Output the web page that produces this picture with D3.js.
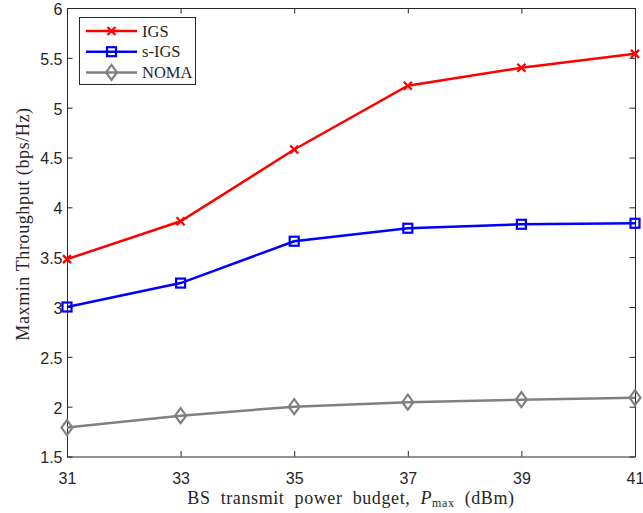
<!DOCTYPE html>
<html>
<head>
<meta charset="utf-8">
<script src="https://cdn.jsdelivr.net/npm/d3@7"></script>
<style>
  html, body { margin: 0; padding: 0; background: #fff; }
  svg { display: block; }
</style>
</head>
<body>
<svg id="chart" width="643" height="513"></svg>
<script>
// Transmit power budget (dBm)
const powerBudget = [31, 33, 35, 37, 39, 41];
// Max-min throughput (bps/Hz) per scheme
const igs  = [3.48, 3.86, 4.58, 5.22, 5.40, 5.54];
const sIgs = [3.00, 3.24, 3.66, 3.79, 3.83, 3.84];
const noma = [1.79, 1.91, 2.00, 2.045, 2.07, 2.09];
const seriesNames = ["IGS", "s-IGS", "NOMA"];
const xTicks = [31, 33, 35, 37, 39, 41];
const yTicks = [1.5, 2, 2.5, 3, 3.5, 4, 4.5, 5, 5.5, 6];

const series = [
  { name: seriesNames[0], values: igs,  color: "#ff0000", marker: "x" },
  { name: seriesNames[1], values: sIgs, color: "#0000ff", marker: "square" },
  { name: seriesNames[2], values: noma, color: "#808080", marker: "diamond" }
];

const svg = d3.select("#chart");
const m = { left: 67, right: 635, top: 8, bottom: 456.5 };
const x = d3.scaleLinear().domain([31, 41]).range([m.left, m.right]);
const y = d3.scaleLinear().domain([1.5, 6]).range([m.bottom, m.top]);
const axisColor = "#262626";
const tickFont = "'Liberation Sans', Arial, sans-serif";
const serif = "'Liberation Serif', 'Times New Roman', serif";

// Axes with inward ticks on all four sides
const tickLen = 5.5;
const axisBottomG = svg.append("g").attr("transform", `translate(0,${m.bottom})`)
  .call(d3.axisBottom(x).tickValues(xTicks).tickSizeInner(-tickLen).tickSizeOuter(0).tickPadding(16).tickFormat(d3.format("d")));
const axisTopG = svg.append("g").attr("transform", `translate(0,${m.top})`)
  .call(d3.axisTop(x).tickValues(xTicks).tickSizeInner(-tickLen).tickSizeOuter(0).tickFormat(""));
const axisLeftG = svg.append("g").attr("transform", `translate(${m.left},0)`)
  .call(d3.axisLeft(y).tickValues(yTicks).tickSizeInner(-tickLen).tickSizeOuter(0).tickPadding(4.5).tickFormat(d => String(d)));
const axisRightG = svg.append("g").attr("transform", `translate(${m.right},0)`)
  .call(d3.axisRight(y).tickValues(yTicks).tickSizeInner(-tickLen).tickSizeOuter(0).tickFormat(""));

[axisBottomG, axisTopG, axisLeftG, axisRightG].forEach(g => {
  g.select(".domain").attr("stroke", axisColor).attr("stroke-width", 1);
  g.selectAll(".tick line").attr("stroke", axisColor).attr("stroke-width", 1);
  g.selectAll(".tick text").attr("fill", axisColor).style("font-family", tickFont).style("font-size", "16px");
});
axisLeftG.selectAll(".tick text").attr("dy", "0.4em");

// Axis titles
svg.append("text")
  .attr("transform", `translate(29,224) rotate(-90)`)
  .attr("text-anchor", "middle")
  .style("font-family", serif).style("font-size", "18px").style("letter-spacing", "0.6px")
  .attr("fill", axisColor)
  .text("Maxmin Throughput (bps/Hz)");

const xt = svg.append("text")
  .attr("x", 351).attr("y", 504)
  .attr("text-anchor", "middle")
  .style("font-family", serif).style("font-size", "18px")
  .style("letter-spacing", "0.6px").style("word-spacing", "5px").attr("fill", axisColor);
xt.append("tspan").text("BS transmit power budget, ");
xt.append("tspan").style("font-style", "italic").text("P");
xt.append("tspan").attr("dy", 3).style("font-size", "12px").text("max");
xt.append("tspan").attr("dy", -3).text(" (dBm)");

// Marker drawing
function drawMarker(g, type, color, cx, cy) {
  if (type === "x") {
    const s = 4;
    g.append("path")
      .attr("d", `M${cx - s},${cy - s}L${cx + s},${cy + s}M${cx - s},${cy + s}L${cx + s},${cy - s}`)
      .attr("stroke", color).attr("stroke-width", 2.3).attr("fill", "none");
  } else if (type === "square") {
    const s = 4.5;
    g.append("rect").attr("x", cx - s).attr("y", cy - s).attr("width", 2 * s).attr("height", 2 * s)
      .attr("stroke", color).attr("stroke-width", 2.2).attr("fill", "none");
  } else {
    const w = 5.5, h = 7.5;
    g.append("path")
      .attr("d", `M${cx},${cy - h}L${cx + w},${cy}L${cx},${cy + h}L${cx - w},${cy}Z`)
      .attr("stroke", color).attr("stroke-width", 2.2).attr("fill", "none");
  }
}

const line = d3.line().x(d => x(d[0])).y(d => y(d[1]));
const plot = svg.append("g");
series.forEach(s => {
  const pts = powerBudget.map((p, i) => [p, s.values[i]]);
  plot.append("path").attr("d", line(pts))
    .attr("stroke", s.color).attr("stroke-width", 2.5).attr("fill", "none");
  pts.forEach(p => drawMarker(plot, s.marker, s.color, x(p[0]), y(p[1])));
});

// Legend
const lg = svg.append("g");
lg.append("rect").attr("x", 79.5).attr("y", 17.5).attr("width", 116).attr("height", 67)
  .attr("fill", "#fff").attr("stroke", axisColor).attr("stroke-width", 1);
series.forEach((s, i) => {
  const cy = 31 + i * 20.7;
  lg.append("line").attr("x1", 86).attr("x2", 137).attr("y1", cy).attr("y2", cy)
    .attr("stroke", s.color).attr("stroke-width", 2.5);
  drawMarker(lg, s.marker, s.color, 111.5, cy);
  lg.append("text").attr("x", 142).attr("y", cy + 5.5)
    .style("font-family", serif).style("font-size", "16.5px").attr("fill", axisColor)
    .text(s.name);
});
</script>
</body>
</html>
